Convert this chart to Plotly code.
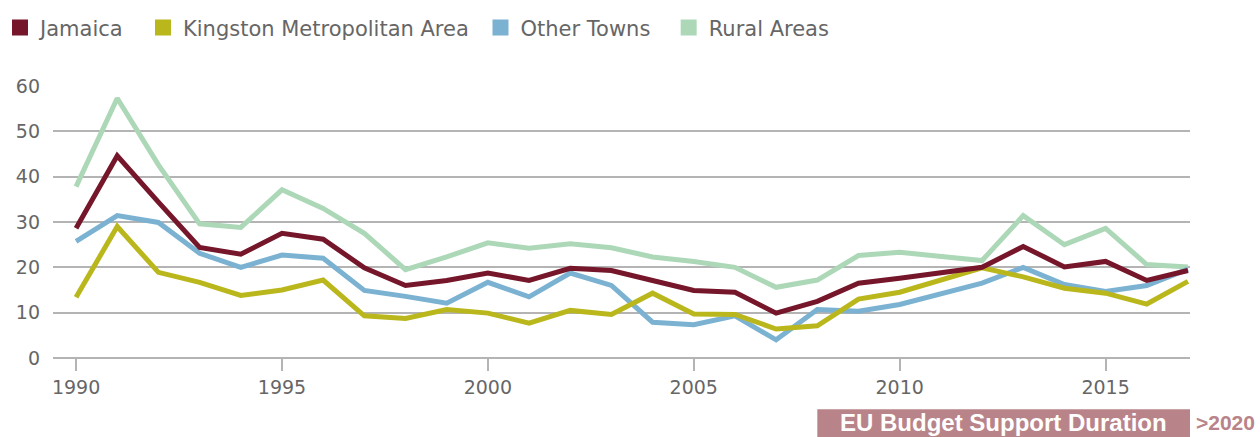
import plotly.graph_objects as go

years = list(range(1990, 2018))

jamaica = [28.6, 44.6, 34.4, 24.4, 22.9, 27.5, 26.2, 19.9, 16.0, 17.1,
           18.75, 17.1, 19.8, 19.3, 17.1, 14.9, 14.5, 9.9, 12.5, 16.5,
           17.6, 18.75, 20.0, 24.6, 20.1, 21.3, 17.1, 19.3]
kingston = [13.4, 29.0, 18.9, 16.7, 13.8, 15.0, 17.2, 9.3, 8.7, 10.7,
            9.9, 7.7, 10.5, 9.6, 14.3, 9.7, 9.6, 6.4, 7.1, 13.0,
            14.5, 17.3, 19.9, 17.9, 15.4, 14.3, 11.9, 16.9]
other_towns = [25.7, 31.4, 29.9, 23.1, 20.0, 22.7, 22.0, 14.9, 13.6, 12.1,
               16.7, 13.5, 18.75, 16.0, 7.9, 7.35, 9.3, 4.0, 10.7, 10.3,
               11.8, 14.2, 16.5, 20.0, 16.2, 14.7, 16.0, 19.6]
rural = [37.8, 57.3, 42.6, 29.6, 28.8, 37.1, 33.0, 27.5, 19.5, 22.3,
         25.4, 24.2, 25.2, 24.3, 22.3, 21.3, 20.0, 15.6, 17.2, 22.6,
         23.3, 22.4, 21.5, 31.4, 25.0, 28.6, 20.6, 20.1]

series_names = ["Jamaica", "Kingston Metropolitan Area", "Other Towns", "Rural Areas"]
series_values = [jamaica, kingston, other_towns, rural]
series_colors = ["#75162a", "#bab71c", "#7bb2d2", "#acd8b8"]

# extra spacing after some legend entries
legend_pad = ["\u00a0\u00a0", "\u00a0", "\u00a0\u00a0", ""]

# draw order: rural at the back, jamaica on top
draw_order = [3, 2, 1, 0]

budget_start, budget_end = 2008, 2017.05
budget_label = "EU Budget Support Duration"
budget_after = ">2020"
bar_color = "#b98489"

grey_text = "#666666"
grid_color = "#b4b4b4"
font_family = "DejaVu Sans, Arial, sans-serif"

fig = go.Figure()

for i in draw_order:
    fig.add_trace(go.Scatter(
        x=years, y=series_values[i], mode="lines", name=series_names[i],
        line=dict(color=series_colors[i], width=5), showlegend=False,
        hoverinfo="x+y+name",
    ))

# square legend swatches
for name, pad, color in zip(series_names, legend_pad, series_colors):
    fig.add_trace(go.Scatter(
        x=[None], y=[None], mode="markers", name=name + pad,
        marker=dict(symbol="square", size=18, color=color),
        showlegend=True,
    ))

# budget-support duration band under the axis
fig.add_shape(type="rect", xref="x", yref="paper",
              x0=budget_start, x1=budget_end, y0=-0.188, y1=-0.32,
              fillcolor=bar_color, line=dict(width=0), layer="above")
fig.add_annotation(xref="x", yref="paper", x=(budget_start + budget_end) / 2,
                   y=-0.238, text=f"<b>{budget_label}</b>", showarrow=False,
                   font=dict(family="Liberation Sans, Arial", size=24, color="white"),
                   yanchor="middle", xanchor="center")
fig.add_annotation(xref="x", yref="paper", x=budget_end, xshift=4,
                   y=-0.238, text=f"<b>{budget_after}</b>", showarrow=False,
                   font=dict(family="Liberation Sans, Arial", size=21, color=bar_color),
                   yanchor="middle", xanchor="left")

fig.update_layout(
    width=1260, height=437,
    margin=dict(l=53, r=70, t=86, b=79, autoexpand=False),
    paper_bgcolor="white", plot_bgcolor="white",
    font=dict(family=font_family, color=grey_text, size=18),
    legend=dict(orientation="h", xref="container", yref="container",
                x=0.0, xanchor="left", y=0.936, yanchor="middle",
                font=dict(size=21, color=grey_text), itemclick=False,
                bgcolor="rgba(0,0,0,0)", tracegroupgap=0),
    xaxis=dict(range=[1989.44, 2017.05], tickmode="array",
               tickvals=[1990, 1995, 2000, 2005, 2010, 2015],
               ticks="outside", ticklen=12, tickwidth=1.5, tickcolor=grid_color,
               showgrid=False, zeroline=False, showline=False,
               tickfont=dict(size=19, color=grey_text)),
    yaxis=dict(range=[0, 60], tickvals=[0, 10, 20, 30, 40, 50, 60],
               showgrid=True, gridcolor=grid_color, gridwidth=2,
               zeroline=True, zerolinecolor=grid_color, zerolinewidth=2,
               showline=False, ticks="", ticklabelstandoff=12,
               tickfont=dict(size=19, color=grey_text)),
    showlegend=True,
)

fig.write_html("out.html")
